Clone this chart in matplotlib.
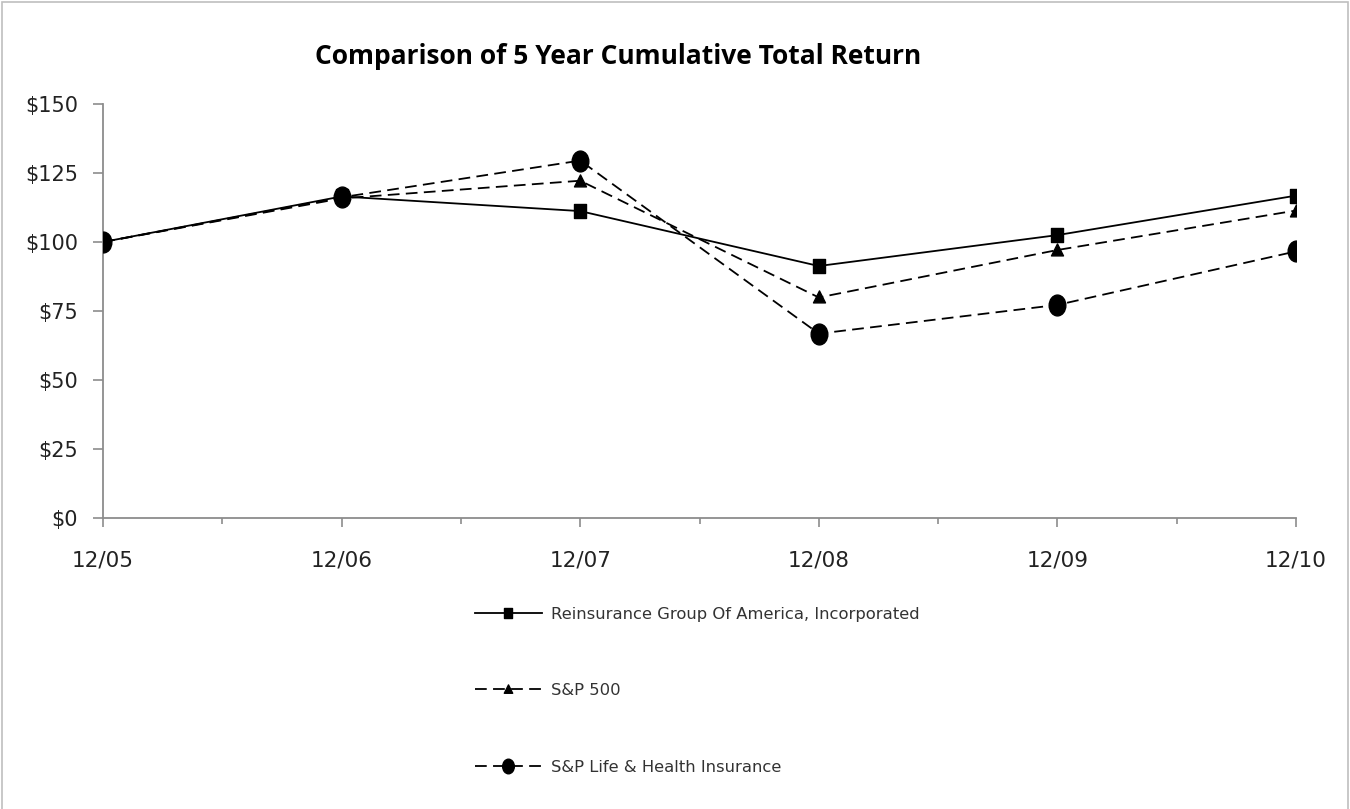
import matplotlib
matplotlib.use("Agg")
import matplotlib.pyplot as plt
from matplotlib.patches import Rectangle
from matplotlib.path import Path
from matplotlib.ticker import FixedLocator

categories = ["12/05", "12/06", "12/07", "12/08", "12/09", "12/10"]
rga = [100, 116.5, 111.2, 91.3, 102.5, 116.8]
sp500 = [100, 115.8, 122.2, 79.9, 97.1, 111.4]
sp_life = [100, 116.2, 129.5, 66.8, 77.2, 96.6]
series_names = ["Reinsurance Group Of America, Incorporated", "S&P 500",
                "S&P Life & Health Insurance"]
yticks = [0, 25, 50, 75, 100, 125, 150]


def stretched(path, sy):
    v = path.vertices.copy()
    v[:, 1] *= sy
    return Path(v, path.codes)


circ = stretched(Path.unit_circle(), 1.25)
sq = Path([(-0.5, -0.575), (0.5, -0.575), (0.5, 0.575), (-0.5, 0.575),
           (-0.5, -0.575)],
          [Path.MOVETO, Path.LINETO, Path.LINETO, Path.LINETO, Path.CLOSEPOLY])
tri = Path([(-0.5, -0.45), (0.5, -0.45), (0, 0.55), (-0.5, -0.45)],
           [Path.MOVETO, Path.LINETO, Path.LINETO, Path.CLOSEPOLY])

fig = plt.figure(figsize=(13.5, 8.09), dpi=100)
ax = fig.add_axes([103/1350, 1-518/809, (1296-103)/1350, (518-104)/809])

x = list(range(len(categories)))
dash = (0, (6.5, 3.5))
ax.plot(x, rga, color="black", lw=1.3, marker=sq, markersize=10.5,
        label=series_names[0], zorder=3)
ax.plot(x, sp500, color="black", lw=1.3, ls=dash, marker=tri,
        markersize=9.5, label=series_names[1], zorder=3)
ax.plot(x, sp_life, color="black", lw=1.3, ls=dash, marker=circ,
        markersize=15, label=series_names[2], zorder=3)

ax.set_xlim(0, len(categories) - 1)
ax.set_ylim(0, 150)
ax.set_yticks(yticks)
ax.set_yticklabels([f"${v}" for v in yticks])
ax.set_xticks(x)
ax.set_xticklabels(categories)
ax.xaxis.set_minor_locator(FixedLocator([i + 0.5 for i in x[:-1]]))

for s in ["top", "right"]:
    ax.spines[s].set_visible(False)
for s in ["left", "bottom"]:
    ax.spines[s].set_color("#8c8c8c")
    ax.spines[s].set_linewidth(1.3)

ax.tick_params(axis="y", which="major", length=7, width=1.2, color="#8c8c8c",
               pad=11, labelsize=15, labelcolor="#222222")
ax.tick_params(axis="x", which="major", length=6.5, width=1.2, color="#8c8c8c",
               pad=17, labelsize=15.5, labelcolor="#222222")
ax.tick_params(axis="x", which="minor", length=4.3, width=1.2, color="#8c8c8c")
for lab in ax.get_xticklabels() + ax.get_yticklabels():
    lab.set_family("DejaVu Sans")

fig.text(618/1350, 1-56/809, "Comparison of 5 Year Cumulative Total Return",
         ha="center", va="center", fontsize=19, fontweight="bold",
         family="Open Sans", color="black")

leg = fig.legend(loc="upper left", bbox_to_anchor=(460/1350, 1-592/809),
                 frameon=False, labelspacing=3.75,
                 handlelength=4.1, handletextpad=0.58, markerscale=0.7,
                 prop=dict(family="DejaVu Sans", size=11.8))
for t in leg.get_texts():
    t.set_color("#333333")

fig.patches.append(Rectangle((0.0015, -0.01), 0.997, 1.008,
                             transform=fig.transFigure, fill=False,
                             edgecolor="#bfbfbf", lw=1.2))

fig.savefig("out.png", dpi=100)
